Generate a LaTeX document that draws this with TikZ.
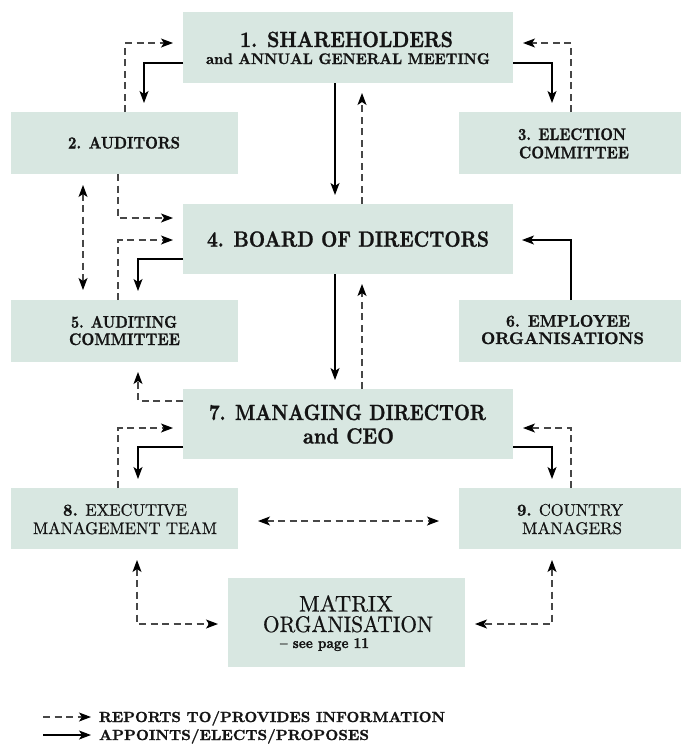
\documentclass[tikz,border=0pt]{standalone}
\usepackage{fontspec}
\usepackage{graphicx}
\usetikzlibrary{arrows.meta}
\newfontfamily\heavy{lmroman10-bold.otf}[FakeBold=1.2, Ligatures=TeX]
\newfontfamily\medium{lmroman10-regular.otf}[FakeBold=0.6, Ligatures=TeX]
\definecolor{boxfill}{RGB}{216,231,225}
\newcommand{\sqz}[2]{\resizebox{#1pt}{\height}{#2}}
\tikzset{
  box/.style={fill=boxfill, draw=none, inner sep=0pt, outer sep=0pt},
  lbl/.style={anchor=base, inner sep=0pt, outer sep=0pt, text=black!92},
  bigb/.style={lbl, font=\heavy\fontsize{22}{22}\selectfont},
  midb/.style={lbl, font=\heavy\fontsize{15.3}{16}\selectfont},
  smb/.style={lbl, font=\heavy\fontsize{16.8}{17}\selectfont},
  smm/.style={lbl, font=\medium\fontsize{16.8}{17}\selectfont},
  bigm/.style={lbl, font=\medium\fontsize{22.6}{23}\selectfont},
  seem/.style={lbl, font=\heavy\fontsize{15}{15}\selectfont},
  legtext/.style={anchor=base west, inner sep=0pt, outer sep=0pt, text=black!92, font=\heavy\fontsize{14.6}{15}\selectfont},
  solidarr/.style={draw=black, line width=1.1pt, ->, shorten >=9pt},
  dasharr/.style={draw=black!72, line width=1.1pt, dash pattern=on 7pt off 4.5pt, ->, shorten >=10pt},
}
\begin{document}
\begin{tikzpicture}[x=1pt, y=-1pt, >={Stealth[length=12pt,width=9pt,inset=3pt,black]}]
\useasboundingbox (0,0) rectangle (681,744);

% boxes
\node[box, minimum width=330pt, minimum height=71pt] (b1) at (348,47.5) {};
\node[box, minimum width=227pt, minimum height=62pt] (b2) at (124.5,143) {};
\node[box, minimum width=222pt, minimum height=62pt] (b3) at (570,143) {};
\node[box, minimum width=330pt, minimum height=70pt] (b4) at (348,239) {};
\node[box, minimum width=227pt, minimum height=62pt] (b5) at (124.5,331) {};
\node[box, minimum width=222pt, minimum height=62pt] (b6) at (570,331) {};
\node[box, minimum width=330pt, minimum height=70pt] (b7) at (348,424) {};
\node[box, minimum width=227pt, minimum height=61pt] (b8) at (124.5,518.5) {};
\node[box, minimum width=222pt, minimum height=61pt] (b9) at (570,518.5) {};
\node[box, minimum width=237pt, minimum height=89pt] (bm) at (346.5,622.5) {};

% texts
\node[bigb] (t1a) at (346.5,47) {\sqz{213}{1. SHAREHOLDERS}};
\node[midb] (t1b) at (348,64) {\sqz{284}{and ANNUAL GENERAL MEETING}};
\node[smb] (t2) at (124,148.5) {\sqz{112}{2. AUDITORS}};
\node[smb] (t3a) at (572,140) {\sqz{108}{3. ELECTION}};
\node[smb] (t3b) at (574,158.3) {\sqz{110}{COMMITTEE}};
\node[bigb] (t4) at (348,246.7) {\sqz{282}{4. BOARD OF DIRECTORS}};
\node[smb] (t5a) at (124,327.7) {\sqz{106}{5. AUDITING}};
\node[smb] (t5b) at (124.5,345) {\sqz{111}{COMMITTEE}};
\node[smb] (t6a) at (568,326.7) {\sqz{124}{6. EMPLOYEE}};
\node[smb] (t6b) at (562.5,344) {\sqz{163}{ORGANISATIONS}};
\node[bigb] (t7a) at (347.5,420) {\sqz{277}{7. MANAGING DIRECTOR}};
\node[bigb] (t7b) at (348.5,443.5) {\sqz{91}{and CEO}};
\node[smm] (t8a) at (125,515.7) {\sqz{124}{{\heavy 8.} EXECUTIVE}};
\node[smm] (t8b) at (125,534) {\sqz{184}{MANAGEMENT TEAM}};
\node[smm] (t9a) at (570,515.7) {\sqz{106}{{\heavy 9.} COUNTRY}};
\node[smm] (t9b) at (572,534) {\sqz{100}{MANAGERS}};
\node[bigm] (tma) at (346,611.5) {\sqz{94}{MATRIX}};
\node[bigm] (tmb) at (348,632) {\sqz{170}{ORGANISATION}};
\node[seem] (tmc) at (324.5,648) {\sqz{89}{– see page 11}};

% connectors
\draw[solidarr] (b1.west |- 0,63) -| (b2.north -| 144,0);
\draw[dasharr] (b2.north -| 125,0) |- (b1.west |- 0,43);
\draw[solidarr] (b1.east |- 0,63) -| (b3.north -| 552,0);
\draw[dasharr] (b3.north -| 571,0) |- (b1.east |- 0,43);
\draw[solidarr] (b1.south -| 335,0) -- (b4.north -| 335,0);
\draw[dasharr] (b4.north -| 362,0) -- (b1.south -| 362,0);
\draw[dasharr] (b2.south -| 118,0) |- (b4.west |- 0,218);
\draw[dasharr, <->, shorten <=11pt] (b2.south -| 83,0) -- (b5.north -| 83,0);
\draw[dasharr] (b5.north -| 118,0) |- (b4.west |- 0,240);
\draw[solidarr] (b4.west |- 0,259) -| (b5.north -| 138,0);
\draw[solidarr] (b4.south -| 335,0) -- (b7.north -| 335,0);
\draw[dasharr] (b7.north -| 362,0) -- (b4.south -| 362,0);
\draw[solidarr] (b6.north -| 571,0) |- (b4.east |- 0,240);
\draw[dasharr] (b7.west |- 0,401) -| (b5.south -| 138,0);
\draw[dasharr] (b8.north -| 118,0) |- (b7.west |- 0,428);
\draw[solidarr] (b7.west |- 0,447) -| (b8.north -| 138,0);
\draw[solidarr] (b7.east |- 0,447) -| (b9.north -| 552,0);
\draw[dasharr] (b9.north -| 571,0) |- (b7.east |- 0,428);
\draw[dasharr, <->, shorten <=20pt, shorten >=20pt] (b8.east |- 0,521) -- (b9.west |- 0,521);
\draw[dasharr, <->, shorten <=11pt] (b8.south -| 137,0) |- (bm.west |- 0,624);
\draw[dasharr, <->, shorten <=11pt] (b9.south -| 552,0) |- (bm.east |- 0,624);

% legend
\coordinate (la1) at (43,717);
\coordinate (la2) at (91,717);
\coordinate (lb1) at (43,735);
\coordinate (lb2) at (91,735);
\draw[dasharr, shorten >=0pt] (la1) -- (la2);
\draw[solidarr, shorten >=0pt] (lb1) -- (lb2);
\node[legtext] (lg1) at (99,722) {\sqz{346}{REPORTS TO/PROVIDES INFORMATION}};
\node[legtext] (lg2) at (99,740) {\sqz{270}{APPOINTS/ELECTS/PROPOSES}};
\end{tikzpicture}
\end{document}
